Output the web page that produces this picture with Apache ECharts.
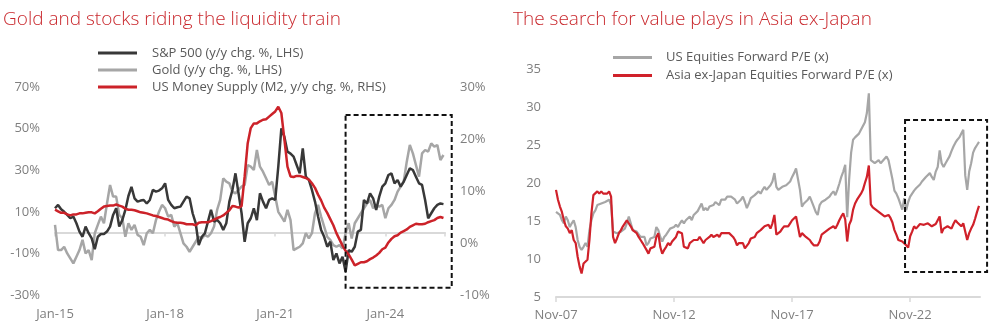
<!DOCTYPE html>
<html><head><meta charset="utf-8">
<script src="https://cdn.jsdelivr.net/npm/echarts@6/dist/echarts.min.js"></script>
<style>html,body{margin:0;padding:0;background:#fff}#c{width:1000px;height:332px}</style>
</head><body><div id="c"></div>
<script>
// ---- Left chart: monthly, Jan-2015 onward (index = months since Jan-2015)
const leftTickLabels = ['Jan-15', 'Jan-18', 'Jan-21', 'Jan-24'];
const sp500 = [
  11.7, 13.3, 11.2, 10.0, 8.5, 6.9, 7.7, 4.5, 0.5, -2.0,
  2.9, -0.3, -2.8, -8.0, -2.0, -0.7, -0.7, 0.5, 2.9, 8.5,
  11.7, 2.9, 6.0, 10.9, 17.6, 22.0, 16.5, 14.9, 15.4, 15.7,
  14.0, 15.7, 20.5, 19.7, 20.2, 21.3, 23.7, 15.7, 13.3, 11.7,
  12.2, 12.5, 14.9, 17.3, 16.5, 9.3, 4.5, -6.0, -2.0, -0.3,
  5.3, 10.9, 5.3, 6.1, 4.5, 1.3, 4.5, 14.9, 20.5, 28.5,
  18.9, 9.3, -4.4, 4.5, 6.9, 11.7, 6.0, 18.9, 14.9, 11.7,
  15.7, 16.5, 15.7, 31.7, 50.1, 46.0, 38.9, 38.0, 36.5, 32.5,
  28.5, 40.5, 26.9, 25.3, 20.5, 14.9, 7.7, 1.3, -2.0, -6.8,
  -4.4, -13.2, -10.0, -14.8, -11.6, -18.8, -8.4, -9.2, -6.8, 0.5,
  1.3, 15.7, 14.0, 18.9, 16.5, 10.9, 17.3, 22.1, 23.7, 27.7,
  28.5, 23.7, 25.3, 22.1, 24.5, 27.7, 30.9, 30.1, 26.9, 23.7,
  22.9, 15.7, 6.9, 9.3, 11.7, 13.3, 14.0, 13.7
];
const gold = [
  3.7, -8.4, -8.4, -6.8, -10.0, -12.4, -14.8, -11.6, -8.4, -3.5,
  -10.0, -8.4, -13.2, -0.3, 3.7, 7.7, 4.5, 14.0, 22.9, 17.3,
  17.3, 8.5, 6.9, -2.0, 4.5, 1.3, 3.7, -1.1, -2.0, -6.0,
  -0.3, 1.3, -0.3, 6.0, 10.0, 13.3, 11.7, 7.7, 8.5, 2.9,
  4.5, -0.3, -5.2, -6.8, -9.2, -6.8, -4.4, -2.0, -2.8, -1.1,
  -2.0, -0.3, 2.9, 10.9, 15.7, 26.1, 24.5, 23.7, 19.7, 18.9,
  20.5, 22.1, 22.9, 32.5, 31.7, 30.1, 39.7, 31.7, 29.3, 26.1,
  22.9, 24.5, 17.3, 10.0, 7.7, 5.3, 10.9, 6.0, -8.4, -7.6,
  -6.8, -5.2, -0.3, -2.8, -0.3, 9.3, 13.3, 7.7, 2.9, -2.0,
  -3.5, -6.0, -6.8, -6.0, -7.6, -0.3, 4.5, -2.8, 4.5, 6.9,
  9.3, 11.7, 14.0, 15.7, 11.7, 13.3, 12.5, 13.3, 6.9, 11.7,
  13.3, 15.7, 19.7, 22.1, 24.5, 34.1, 42.1, 38.1, 32.5, 26.9,
  38.1, 39.7, 38.9, 42.9, 41.3, 42.1, 34.9, 37.3
];
const m2 = [
  6.4, 6.1, 5.8, 5.8, 5.5, 5.3, 5.5, 5.5, 5.7, 5.7,
  5.8, 5.9, 5.9, 5.7, 6.1, 6.6, 7.0, 7.1, 7.2, 7.2,
  7.4, 7.2, 7.0, 6.6, 6.4, 6.4, 6.3, 6.1, 5.9, 5.8,
  5.7, 5.5, 5.3, 5.2, 5.0, 4.8, 4.6, 4.5, 4.2, 4.0,
  3.9, 3.9, 3.8, 3.6, 3.6, 3.6, 3.4, 3.9, 4.0, 4.0,
  4.0, 4.2, 4.5, 4.8, 5.0, 5.3, 5.8, 6.3, 7.1, 7.0,
  6.8, 7.1, 12.8, 19.2, 22.1, 23.0, 23.0, 23.4, 23.7, 23.8,
  24.3, 24.8, 25.3, 26.2, 25.0, 19.9, 14.7, 12.8, 12.7, 12.9,
  12.9, 12.7, 12.5, 12.2, 11.5, 10.6, 9.3, 8.2, 6.8, 5.8,
  4.6, 3.4, 1.9, 0.7, -0.5, -1.5, -2.2, -3.2, -4.3, -4.0,
  -3.7, -3.7, -3.5, -3.1, -2.8, -2.4, -1.9, -1.2, -0.9, 0.1,
  0.8, 1.3, 1.5, 2.0, 2.3, 2.6, 3.1, 3.4, 3.7, 3.6,
  3.6, 3.7, 4.0, 4.2, 4.4, 4.8, 5.0, 4.8
];
// highlight box: [from month, to month, from value, to value] (left axis)
const leftBox = [95, 129.7, -26.5, 56.5];

// ---- Right chart: monthly, Nov-2007 onward (index = months since Nov-2007)
const rightTickLabels = ['Nov-07', 'Nov-12', 'Nov-17', 'Nov-22'];
const usPE = [
  16.2, 16.0, 15.8, 15.1, 14.7, 15.6, 15.1, 14.2, 14.7, 15.1,
  14.2, 12.5, 11.6, 11.2, 11.6, 12.1, 11.6, 13.8, 15.1, 16.0,
  16.4, 17.1, 16.9, 17.3, 17.1, 17.5, 17.3, 17.8, 17.1, 13.6,
  13.6, 13.4, 13.4, 13.6, 13.8, 14.0, 14.7, 15.6, 14.7, 13.8,
  13.6, 13.6, 13.4, 12.9, 12.7, 12.9, 11.8, 12.1, 12.7, 12.5,
  12.9, 14.2, 13.8, 12.9, 12.3, 12.9, 13.2, 13.4, 14.0, 13.8,
  14.2, 14.5, 14.2, 14.7, 15.1, 14.7, 15.1, 15.3, 15.6, 15.1,
  15.8, 16.0, 16.3, 16.2, 17.3, 16.4, 16.7, 16.4, 16.9, 16.7,
  17.1, 17.5, 17.3, 17.1, 17.8, 18.0, 17.8, 18.2, 18.4, 18.2,
  18.4, 17.8, 17.3, 17.5, 17.8, 18.2, 17.5, 16.7, 17.3, 18.0,
  18.2, 18.4, 18.6, 18.9, 18.6, 19.1, 19.5, 19.1, 19.3, 19.7,
  20.2, 21.3, 19.5, 19.1, 19.3, 19.5, 19.7, 19.7, 19.9, 20.2,
  20.8, 21.3, 21.9, 22.1, 19.1, 16.9, 17.3, 17.5, 17.8, 18.2,
  18.0, 16.9, 16.2, 15.8, 17.1, 17.5, 17.3, 17.8, 18.0, 18.2,
  18.6, 18.9, 18.4, 19.1, 19.9, 20.8, 21.5, 22.4, 15.5, 20.5,
  24.0, 25.7, 26.0, 26.1, 26.5, 26.3, 27.5, 28.0, 29.2, 31.8,
  23.0, 22.8, 22.6, 22.8, 23.0, 22.6, 22.8, 23.2, 23.5, 23.0,
  22.8, 20.5, 19.0, 18.6, 18.0, 17.8, 16.5, 18.0, 16.4, 17.5,
  18.2, 18.6, 19.0, 19.3, 19.5, 19.8, 20.2, 20.4, 20.8, 21.0,
  21.3, 20.8, 20.4, 21.5, 22.1, 24.3, 22.6, 22.1, 22.6, 22.8,
  23.5, 24.2, 24.8, 25.3, 25.7, 26.0, 26.5, 27.0, 21.0, 19.1,
  21.5, 22.6, 24.0, 24.6, 25.0, 25.4
];
const asiaPE = [
  19.1, 17.8, 16.9, 16.2, 15.1, 14.3, 14.0, 13.4, 13.8, 12.5,
  12.1, 10.3, 9.0, 8.1, 9.4, 9.6, 9.9, 12.5, 16.0, 18.4,
  18.6, 18.9, 18.6, 18.9, 18.6, 18.4, 18.6, 18.9, 18.2, 12.9,
  12.1, 12.7, 13.4, 13.8, 14.3, 14.5, 15.1, 14.9, 14.3, 13.8,
  13.6, 13.4, 12.9, 12.5, 12.1, 12.1, 11.2, 10.7, 11.4, 11.2,
  11.6, 12.9, 13.4, 11.6, 10.7, 11.2, 11.6, 12.1, 11.8, 12.3,
  12.5, 12.9, 13.6, 13.8, 13.4, 11.6, 11.6, 11.4, 12.1, 12.1,
  12.5, 12.6, 12.5, 12.9, 12.5, 12.1, 12.5, 12.7, 12.9, 13.2,
  12.9, 12.7, 13.2, 12.9, 13.4, 13.6, 13.4, 13.6, 13.4, 13.2,
  12.9, 12.5, 11.8, 12.1, 12.3, 12.1, 11.4, 11.2, 12.1, 12.7,
  12.9, 12.9, 13.4, 13.6, 13.8, 14.0, 14.3, 14.3, 14.5, 14.0,
  14.7, 15.8, 13.2, 13.4, 13.6, 14.0, 14.3, 14.3, 14.3, 14.7,
  15.1, 14.9, 15.6, 15.8, 12.9, 13.4, 13.2, 12.9, 12.7, 12.5,
  12.1, 11.8, 11.6, 11.8, 12.3, 13.2, 13.4, 13.6, 13.8, 14.0,
  14.0, 14.3, 14.0, 14.5, 15.1, 15.6, 16.0, 15.2, 12.3, 14.5,
  15.1, 16.5, 17.3, 17.8, 18.2, 18.6, 19.1, 20.0, 20.8, 22.3,
  17.2, 16.8, 16.7, 16.4, 16.2, 16.0, 15.8, 15.6, 15.7, 15.8,
  15.4, 14.8, 13.8, 13.2, 12.5, 12.4, 12.3, 12.5, 11.8, 11.5,
  13.0, 13.6, 14.3, 14.0, 14.1, 14.6, 14.7, 14.5, 14.6, 14.7,
  14.5, 14.3, 14.5, 14.6, 14.7, 15.6, 13.4, 14.0, 14.0, 14.3,
  14.2, 14.0, 14.6, 15.1, 14.8, 14.7, 14.3, 14.7, 14.5, 12.5,
  13.4, 14.0, 14.5, 15.3, 16.2, 17.0
];
const rightBox = [177.4, 219.1, 8.3, 28.3];

const pairs = a => a.map((v, i) => [i, v]);
const FONT = "'Open Sans', 'Noto Sans', sans-serif";
const RED_T = '#c9282d';
const AX = '#7f7f7f';
const LINE = '#d9d9d9';

const chart = echarts.init(document.getElementById('c'), null, { renderer: 'canvas' });

const yLab = (fmt) => ({ color: AX, fontSize: 13, fontFamily: FONT, margin: 15, formatter: fmt });

const option = {
  animation: false,
  title: [
    { text: 'Gold and stocks riding the liquidity train', left: 3, top: 10, padding: 0,
      textStyle: { color: RED_T, fontSize: 19, fontWeight: 300, fontFamily: FONT } },
    { text: 'The search for value plays in Asia ex-Japan', left: 513, top: 10, padding: 0,
      textStyle: { color: RED_T, fontSize: 19, fontWeight: 300, fontFamily: FONT } }
  ],
  legend: [
    { data: ['S&P 500 (y/y chg. %, LHS)', 'Gold (y/y chg. %, LHS)', 'US Money Supply (M2, y/y chg. %, RHS)'],
      orient: 'vertical', left: 98, top: 45, padding: 0, itemGap: 1, itemWidth: 39, itemHeight: 3, icon: 'rect',
      textStyle: { color: '#595959', fontSize: 13, fontFamily: FONT, lineHeight: 16, padding: [0, 0, 0, 10] } },
    { data: ['US Equities Forward P/E (x)', 'Asia ex-Japan Equities Forward P/E (x)'],
      orient: 'vertical', left: 613, top: 50, padding: 0, itemGap: 3, itemWidth: 39, itemHeight: 3, icon: 'rect',
      textStyle: { color: '#595959', fontSize: 13, fontFamily: FONT, lineHeight: 15, padding: [0, 0, 0, 9] } }
  ],
  grid: [
    { left: 55, top: 87, width: 390, height: 208 },
    { left: 556, top: 69, width: 424, height: 228 }
  ],
  xAxis: [
    { gridIndex: 0, type: 'value', min: 0, max: 127.5, interval: 36,
      axisLine: { show: false, onZero: false }, axisTick: { show: false }, splitLine: { show: false },
      axisLabel: { color: AX, fontSize: 13, fontFamily: FONT, margin: 13, showMaxLabel: false,
        formatter: v => (v % 36 === 0 ? (leftTickLabels[v / 36] || '') : '') } },
    { gridIndex: 0, type: 'value', position: 'bottom', min: 0, max: 127.5, interval: 36,
      axisLine: { show: true, onZero: true, onZeroAxisIndex: 0, lineStyle: { color: LINE, width: 2 } },
      axisTick: { show: true, length: 4, lineStyle: { color: LINE, width: 1.5 } },
      axisLabel: { show: false }, splitLine: { show: false } },
    { gridIndex: 1, type: 'value', min: 0, max: 215.5, interval: 60,
      axisLine: { show: true, onZero: false, lineStyle: { color: LINE, width: 2 } },
      axisTick: { show: true, length: 5, lineStyle: { color: LINE, width: 1.5 } },
      splitLine: { show: false },
      axisLabel: { color: AX, fontSize: 13, fontFamily: FONT, margin: 12, showMaxLabel: false,
        formatter: v => (v % 60 === 0 ? (rightTickLabels[v / 60] || '') : '') } }
  ],
  yAxis: [
    { gridIndex: 0, type: 'value', min: -30, max: 70, interval: 20,
      axisLine: { show: false }, axisTick: { show: false }, splitLine: { show: false },
      axisLabel: yLab('{value}%') },
    { gridIndex: 0, type: 'value', position: 'right', min: -10, max: 30, interval: 10,
      axisLine: { show: false }, axisTick: { show: false }, splitLine: { show: false },
      axisLabel: yLab('{value}%') },
    { gridIndex: 1, type: 'value', min: 5, max: 35, interval: 5,
      axisLine: { show: false }, axisTick: { show: false }, splitLine: { show: false },
      axisLabel: yLab('{value}') }
  ],
  series: [
    { name: 'Gold (y/y chg. %, LHS)', type: 'line', xAxisIndex: 0, yAxisIndex: 0, data: pairs(gold),
      showSymbol: false, color: '#a6a6a6', lineStyle: { width: 2.5, color: '#a6a6a6' } },
    { name: 'S&P 500 (y/y chg. %, LHS)', type: 'line', xAxisIndex: 0, yAxisIndex: 0, data: pairs(sp500),
      showSymbol: false, color: '#383838', lineStyle: { width: 2.5, color: '#383838' } },
    { name: 'US Money Supply (M2, y/y chg. %, RHS)', type: 'line', xAxisIndex: 0, yAxisIndex: 1, data: pairs(m2),
      showSymbol: false, color: '#cc2229', lineStyle: { width: 2.5, color: '#cc2229' } },
    { name: 'US Equities Forward P/E (x)', type: 'line', xAxisIndex: 2, yAxisIndex: 2, data: pairs(usPE),
      showSymbol: false, color: '#a6a6a6', lineStyle: { width: 2.2, color: '#a6a6a6' } },
    { name: 'Asia ex-Japan Equities Forward P/E (x)', type: 'line', xAxisIndex: 2, yAxisIndex: 2, data: pairs(asiaPE),
      showSymbol: false, color: '#d0212a', lineStyle: { width: 2.2, color: '#d0212a' } }
  ]
};
chart.setOption(option);

function boxRect(b, xi, yi) {
  const p1 = chart.convertToPixel({ xAxisIndex: xi, yAxisIndex: yi }, [b[0], b[3]]);
  const p2 = chart.convertToPixel({ xAxisIndex: xi, yAxisIndex: yi }, [b[1], b[2]]);
  return { type: 'rect', z: 10, silent: true,
    shape: { x: p1[0], y: p1[1], width: p2[0] - p1[0], height: p2[1] - p1[1] },
    style: { fill: 'none', stroke: '#111', lineWidth: 2, lineDash: [5, 3] } };
}
chart.setOption({ graphic: [boxRect(leftBox, 0, 0), boxRect(rightBox, 2, 2)] });
</script></body></html>
